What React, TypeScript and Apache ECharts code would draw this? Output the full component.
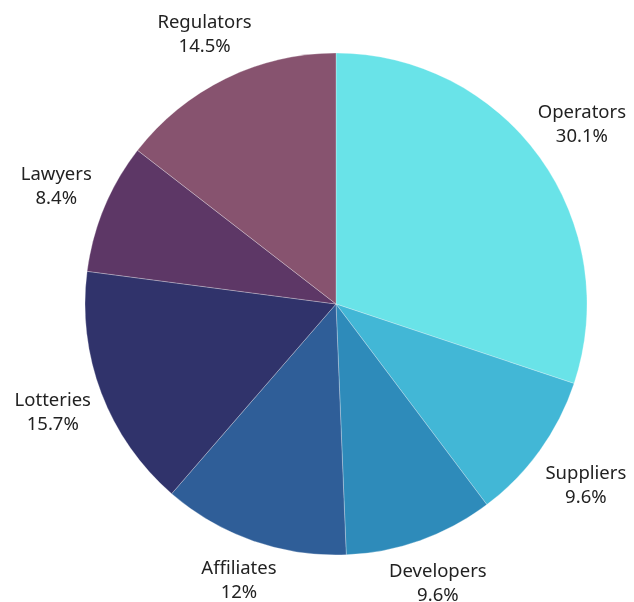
import React, { useEffect, useRef } from "react";
import * as echarts from "echarts";

const categories = ["Operators", "Suppliers", "Developers", "Affiliates", "Lotteries", "Lawyers", "Regulators"];
const values = [30.1, 9.6, 9.6, 12, 15.7, 8.4, 14.5];
const colors = ["#69e3e8", "#42b7d6", "#2e8bba", "#2f5e98", "#30336b", "#5d3766", "#87536f"];
const labelOffsets = [[0, -4], [4, 2], [0, -8], [3, -12], [0, -1], [0, -3], [2, 1]];

export default function App() {
  const ref = useRef<HTMLDivElement>(null);
  useEffect(() => {
    const chart = echarts.init(ref.current!, null, { renderer: "svg" });
    const data = categories.map((name, i) => ({ name, value: values[i] }));
    const labelData = categories.map((name, i) => ({
      name,
      value: values[i],
      label: { offset: labelOffsets[i] },
    }));
    chart.setOption({
      animation: false,
      color: colors,
      series: [
        {
          type: "pie",
          center: [336, 304],
          radius: [0, 251],
          startAngle: 90,
          clockwise: true,
          data,
          label: { show: false },
          labelLine: { show: false },
          itemStyle: { borderColor: "rgba(255,255,255,0.45)", borderWidth: 0.6 },
          silent: true,
        },
        {
          type: "pie",
          center: [336, 304],
          radius: [280, 320],
          startAngle: 90,
          clockwise: true,
          data: labelData,
          silent: true,
          itemStyle: { color: "transparent", borderWidth: 0 },
          label: {
            show: true,
            position: "inside",
            formatter: (p: any) => `${p.name}\n${p.value}%`,
            color: "#222222",
            fontSize: 18.5,
            lineHeight: 24,
            fontFamily: "'Noto Sans', sans-serif",
            align: "center",
          },
          labelLine: { show: false },
        },
      ],
    });
    return () => chart.dispose();
  }, []);
  return <div ref={ref} style={{ position: "fixed", left: 0, top: 0, width: 634, height: 602 }} />;
}
